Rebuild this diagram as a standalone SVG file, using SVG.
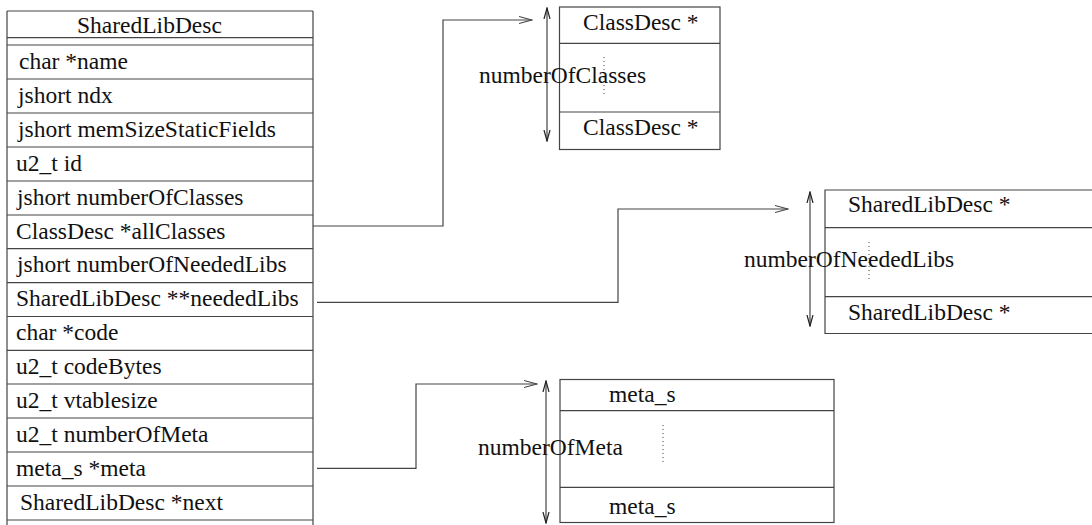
<svg xmlns="http://www.w3.org/2000/svg" width="1092" height="525" viewBox="0 0 1092 525">
  <style>
    .ln { stroke: #444; stroke-width: 1.2; fill: none; }
    .box { stroke: #444; stroke-width: 1.2; fill: #fff; }
    .dot { stroke: #444; stroke-width: 1; stroke-dasharray: 1 3; fill: none; }
    text { font-family: "Liberation Serif", "Times New Roman", serif; font-size: 23.5px; fill: #111; }
  </style>
  <defs>
    <marker id="open" viewBox="0 0 14 10" refX="13" refY="5" markerWidth="14" markerHeight="10" markerUnits="userSpaceOnUse" orient="auto">
      <path d="M0,1.5 L13,5 L0,8.5" fill="none" stroke="#444" stroke-width="1.2"/>
    </marker>
    <marker id="dim" viewBox="0 0 12 8" refX="11" refY="4" markerWidth="12" markerHeight="8" markerUnits="userSpaceOnUse" orient="auto-start-reverse">
      <path d="M0,1 L11,4 L0,7" fill="none" stroke="#222" stroke-width="1.2"/>
    </marker>
  </defs>

  <!-- SharedLibDesc structure -->
  <g id="sharedlibdesc">
    <path class="ln" d="M7,11 H313 M7,11 V525 M313,11 V525"/>
    <path class="ln" d="M7,37.7 H313 M7,45 H313 M7,79 H313 M7,113 H313 M7,147 H313 M7,181 H313 M7,215 H313 M7,248.7 H313 M7,282.7 H313 M7,316.5 H313 M7,350.3 H313 M7,384 H313 M7,418 H313 M7,452 H313 M7,486 H313 M7,520 H313"/>
    <text x="77" y="33.3">SharedLibDesc</text>
    <text x="19" y="68.5">char *name</text>
    <text x="18" y="102.8">jshort ndx</text>
    <text x="18" y="136.8">jshort memSizeStaticFields</text>
    <text x="16" y="170.8">u2_t id</text>
    <text x="17" y="204.8">jshort numberOfClasses</text>
    <text x="16" y="238.5">ClassDesc *allClasses</text>
    <text x="17" y="272.3">jshort numberOfNeededLibs</text>
    <text x="16" y="306.2">SharedLibDesc **neededLibs</text>
    <text x="16" y="340">char *code</text>
    <text x="16" y="373.8">u2_t codeBytes</text>
    <text x="16" y="407.6">u2_t vtablesize</text>
    <text x="16" y="441.5">u2_t numberOfMeta</text>
    <text x="16" y="475.5">meta_s *meta</text>
    <text x="20" y="509.5">SharedLibDesc *next</text>
  </g>

  <!-- ClassDesc pointer array -->
  <g id="classdesc-array">
    <rect class="box" x="559.5" y="7" width="160.5" height="142.5"/>
    <path class="ln" d="M559.5,43.3 H720 M559.5,112 H720"/>
    <path class="dot" d="M604,57 V96"/>
    <text x="583" y="30">ClassDesc *</text>
    <text x="583" y="135">ClassDesc *</text>
    <path class="ln" d="M547,8 V141" marker-start="url(#dim)" marker-end="url(#dim)"/>
    <text x="479" y="83">numberOfClasses</text>
  </g>

  <!-- needed SharedLibDesc pointer array -->
  <g id="neededlibs-array">
    <path class="box" d="M1093,190 H825 V333.5 H1093"/>
    <path class="ln" d="M825,227.7 H1093 M825,296.7 H1093"/>
    <path class="dot" d="M869,242 V279"/>
    <text x="848" y="212">SharedLibDesc *</text>
    <text x="848" y="320">SharedLibDesc *</text>
    <path class="ln" d="M810,192 V326" marker-start="url(#dim)" marker-end="url(#dim)"/>
    <text x="744" y="267">numberOfNeededLibs</text>
  </g>

  <!-- meta_s array -->
  <g id="meta-array">
    <rect class="box" x="560" y="379.5" width="274" height="143"/>
    <path class="ln" d="M560,410.7 H834 M560,487.3 H834"/>
    <path class="dot" d="M663,425 V464"/>
    <text x="609" y="401.7">meta_s</text>
    <text x="609" y="514">meta_s</text>
    <path class="ln" d="M546,381 V523" marker-start="url(#dim)" marker-end="url(#dim)"/>
    <text x="478" y="455">numberOfMeta</text>
  </g>

  <!-- pointer connectors -->
  <g id="connectors">
    <path class="ln" d="M313,226 H443 V20 H532" marker-end="url(#open)"/>
    <path class="ln" d="M317,302.3 H618 V209 H788" marker-end="url(#open)"/>
    <path class="ln" d="M317,468.3 H416 V384 H537" marker-end="url(#open)"/>
  </g>
</svg>
